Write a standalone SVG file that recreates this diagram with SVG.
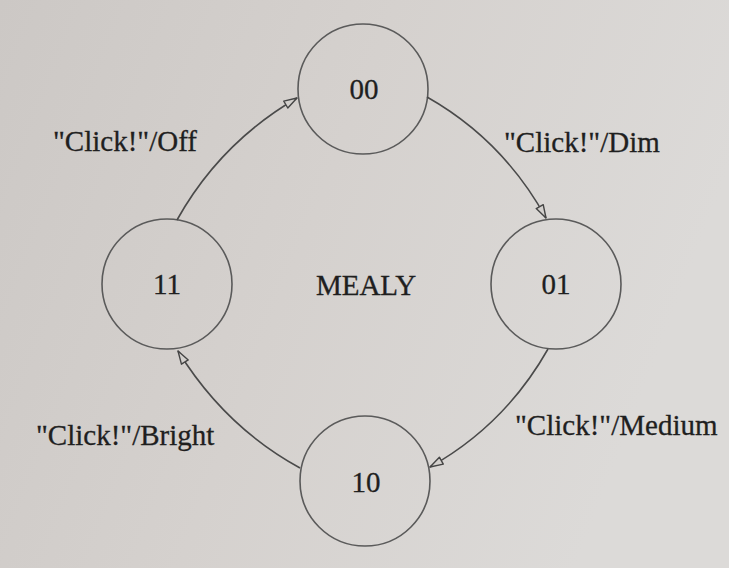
<svg xmlns="http://www.w3.org/2000/svg" width="729" height="568" viewBox="0 0 729 568">
<defs>
<linearGradient id="bg" x1="0" y1="0" x2="1" y2="0.3">
<stop offset="0" stop-color="#ccc8c5"/>
<stop offset="0.5" stop-color="#d5d1ce"/>
<stop offset="1" stop-color="#dcdad8"/>
</linearGradient>
<marker id="arr" markerUnits="userSpaceOnUse" markerWidth="16" markerHeight="12" refX="14" refY="5" orient="auto" viewBox="0 0 16 10">
<path d="M1,1 L14,5 L1,9 Z" fill="#d3d0cd" stroke="#444" stroke-width="1.4" stroke-linejoin="round"/>
</marker>
<style>
.st circle{fill:none;stroke:#5a5a5a;stroke-width:1.6}
.t{font-family:"Liberation Serif","Times New Roman",serif;font-size:29px;fill:#1f1f1f;stroke:#1f1f1f;stroke-width:0.3}
.c{text-anchor:middle}
.e{fill:none;stroke:#4a4a4a;stroke-width:1.6;marker-end:url(#arr)}
</style>
</defs>
<rect width="729" height="568" fill="url(#bg)"/>
<g id="s00" class="st"><circle cx="363" cy="89" r="65"/><text class="t c" x="364" y="99">00</text></g>
<g id="s01" class="st"><circle cx="556" cy="284" r="65"/><text class="t c" x="556" y="294">01</text></g>
<g id="s10" class="st"><circle cx="365" cy="481" r="65"/><text class="t c" x="366" y="492">10</text></g>
<g id="s11" class="st"><circle cx="167" cy="284" r="65"/><text class="t c" x="167" y="294">11</text></g>
<g id="edges">
<path class="e" d="M427,97 Q503,140 546,218"/>
<path class="e" d="M548,349 Q505,425 430,467"/>
<path class="e" d="M300,468 Q225,427 178,351"/>
<path class="e" d="M177,220 Q220,143 297,98"/>
</g>
<g id="labels">
<text class="t" x="53" y="151">"Click!"/Off</text>
<text class="t" x="504" y="152">"Click!"/Dim</text>
<text class="t" x="515" y="435">"Click!"/Medium</text>
<text class="t" x="36" y="445">"Click!"/Bright</text>
<text class="t c" x="366" y="295">MEALY</text>
</g>
</svg>
